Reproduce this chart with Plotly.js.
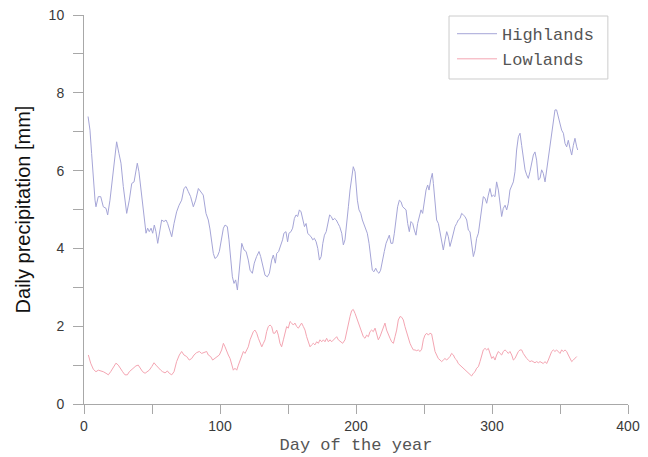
<!DOCTYPE html>
<html>
<head>
<meta charset="utf-8">
<script src="https://cdn.plot.ly/plotly-3.0.1.min.js"></script>
<style>
  html, body { margin: 0; padding: 0; background: #fff; }
  #chart { width: 648px; height: 457px; }
</style>
</head>
<body>
<div id="chart"></div>
<script>
// Smoothed daily precipitation, highland stations
const hiDay = [3,4.4,5.6,6.9,8.1,8.8,10.5,12.3,14.2,16.2,17.4,19.1,20.8,22.3,24,25.7,27.2,28.9,30.2,31.4,33.3,35.1,36.8,38,39.2,40.4,41.7,42.9,44.4,45.6,46.8,48,49.3,50.5,51.7,52.9,54.2,55.4,57.1,58.8,60.3,61.5,63.2,64.5,66.2,68.1,69.9,71.8,73.5,75,76.7,78.4,80.4,82.1,84.1,85.8,87.7,89.7,91.4,92.6,93.9,95.1,96.3,98,99.5,101.2,102.5,103.7,105.4,106.6,107.9,109.1,110.3,111.5,112.8,114.2,116,117.7,119.2,120.8,122.1,123.8,125.2,126.9,128.7,129.9,131.4,133.1,134.8,136.3,138,139.2,140.7,141.7,143.1,144.6,146,147,148.5,149.7,150.7,152.2,153.4,154.7,155.9,157.1,158.4,159.6,160.8,162.1,163.3,164.5,165.7,167,168.2,169.4,170.7,171.9,173.1,174.4,175.6,176.8,178.1,179.3,180.6,181.8,183,184.3,185.5,186.8,188,189.5,190.7,191.9,193.1,194.4,195.6,196.8,198,199.3,200,201,202.2,203.5,204.7,205.9,207.1,208.3,209.6,210.8,212,213.2,214.5,215.7,216.9,218.1,219.4,220.8,222.1,223.3,224.5,225.7,227,228.2,229.4,230.6,231.9,233.1,234.3,235.5,236.8,238,239.2,240.4,241.7,242.9,244.1,245.3,246.6,247.8,249,250.2,251.5,252.7,253.7,254.9,256.1,256.9,258.1,259.3,260.6,261.8,263,264.2,265.5,266.7,267.9,269.1,270.4,271.6,272.8,274,275.2,276.5,277.7,278.9,280.1,281.4,282.6,283.8,285,286.3,287.5,288.7,290,291.2,292.4,293.6,294.9,296.1,297.3,298.5,299.8,301,302.2,303.4,304.7,305.9,307.1,308.3,309.6,310.8,312,313.2,314.5,315.7,316.9,318.1,319.4,320.6,321.8,323,324.3,325.5,326.7,327.9,329.2,330.4,331.6,332.8,334.1,335.3,336.5,337.7,339,340.2,341.4,342.6,343.9,345.1,346.3,347.5,348.8,350,351.2,352.5,353.7,354.9,356.1,357.4,358.6,359.8,361,362.3,363];
const hiVal = [7.39,7.04,6.44,5.76,5.24,5.07,5.33,5.33,5.07,5.03,4.86,5.24,5.76,6.27,6.74,6.44,6.19,5.59,5.24,4.90,5.24,5.67,5.71,5.93,6.19,5.97,5.59,5.16,4.73,4.39,4.52,4.43,4.52,4.39,4.60,4.43,4.13,4.43,4.73,4.69,4.73,4.64,4.43,4.30,4.64,4.94,5.11,5.24,5.54,5.59,5.46,5.33,5.07,5.24,5.54,5.46,5.37,4.90,4.73,4.50,4.22,3.87,3.74,3.79,3.92,4.22,4.52,4.60,4.56,4.22,3.70,3.27,3.10,3.19,2.93,3.44,4.13,3.96,3.92,3.70,3.44,3.36,3.62,3.79,3.92,3.79,3.53,3.31,3.27,3.36,3.70,3.83,3.62,3.87,3.92,4.05,4.22,4.39,4.43,4.17,4.39,4.43,4.52,4.77,4.86,4.82,4.99,4.94,4.73,4.56,4.64,4.39,4.34,4.30,4.22,4.26,4.17,4.00,3.70,3.79,4.13,4.34,4.43,4.64,4.86,4.82,4.73,4.77,4.73,4.64,4.56,4.39,4.09,4.22,4.56,5.07,5.50,5.76,6.10,5.97,5.67,5.24,4.99,4.90,4.73,4.60,4.47,4.39,4.13,3.70,3.44,3.40,3.49,3.40,3.36,3.44,3.70,3.92,4.13,4.22,4.34,4.13,4.13,4.39,4.73,5.07,5.24,5.20,5.07,5.03,4.99,4.64,4.43,4.69,4.64,4.47,4.34,4.64,4.86,4.99,4.90,5.24,5.50,5.63,5.50,5.76,5.93,5.67,5.07,4.73,4.64,4.39,4.13,3.96,4.22,4.43,4.30,4.05,4.22,4.39,4.56,4.64,4.73,4.77,4.90,4.86,4.82,4.73,4.47,4.43,4.09,3.79,3.95,4.26,4.39,4.73,5.07,5.33,5.29,5.16,5.37,5.54,5.33,5.37,5.33,5.71,5.50,5.16,4.82,5.03,5.11,4.99,5.16,5.50,5.63,5.71,5.97,6.53,6.87,6.96,6.65,6.36,6.02,5.89,5.80,5.97,6.23,6.40,6.48,6.27,5.76,5.80,6.02,5.93,5.71,6.02,6.36,6.61,7.04,7.39,7.56,7.56,7.39,7.26,7.04,6.96,6.70,6.61,6.78,6.57,6.40,6.65,6.83,6.61,6.53];

// Smoothed daily precipitation, lowland stations
const loDay = [3.2,4.9,6.9,8.8,10.5,12.3,14.2,16.2,17.9,19.6,21.6,23.5,25.2,26.5,28.4,30.1,31.9,33.3,35.1,36.8,38.2,39.9,41.7,43.1,44.9,46.6,48,49.8,51.5,52.9,54.7,56.4,57.8,59.6,61.3,62.7,64.5,66.2,68.1,70.1,71.8,73.5,75.5,77.4,79.2,80.9,82.8,84.8,86.5,88.2,90.2,91.4,93.1,94.6,96.3,97.5,99.5,101.2,102.5,103.7,104.9,106.1,107.4,108.6,109.8,111,112.3,113.5,114.7,115.9,117.2,118.4,119.6,120.8,122.1,123.3,124.5,125.7,127,128.2,129.4,130.7,131.9,133.1,134.3,135.5,136.8,138,139.2,140.4,141.7,142.9,144.1,145.3,146.6,147.8,149,150.2,151.5,152.7,153.9,155.1,156.4,157.6,158.8,160,161.3,162.5,163.7,164.9,166.2,167.4,168.6,169.8,171.1,172.3,173.5,174.8,176,177.2,178.4,179.7,180.9,182.1,183.3,184.6,185.8,187,188.2,190.2,191.9,193.1,194.4,195.6,196.8,198,199.3,200.5,201.7,203,204.2,205.4,206.6,207.8,209.1,210.3,211.5,212.7,214,215.2,216.4,217.6,218.9,220.1,221.3,222.5,223.8,225,226.2,227.5,228.7,229.9,231.1,232.4,233.6,234.8,236,237.3,238.5,239.7,240.9,242.2,243.4,244.6,245.8,247.1,248.3,249.5,250.7,252,253.2,254.4,255.6,256.9,258.1,259.3,260.5,261.8,263,264.2,265.4,266.7,267.9,269.1,270.3,271.6,272.8,274,275.2,276.5,277.7,278.9,280.1,281.4,282.6,283.8,285,286.3,287.5,288.7,290,291.2,292.4,293.6,294.9,296.1,297.3,298.5,299.8,301,302.2,303.4,304.7,305.9,307.1,308.3,309.6,310.8,312,313.2,314.5,315.7,316.9,318.1,319.4,320.6,321.8,323,324.3,325.5,326.7,327.9,329.2,330.4,331.6,332.8,334.1,335.3,336.5,337.7,339,340.2,341.4,342.6,343.9,345.1,346.3,347.5,348.8,350,351.2,352.5,353.7,354.9,356.1,357.4,358.6,359.8,361,362.3];
const loVal = [1.26,1.05,0.89,0.83,0.87,0.86,0.83,0.79,0.75,0.83,0.94,1.05,1.00,0.92,0.83,0.75,0.75,0.83,0.89,0.96,0.98,1.00,0.92,0.83,0.79,0.83,0.87,0.96,1.06,1.00,0.92,0.87,0.83,0.80,0.85,0.79,0.75,0.83,1.09,1.26,1.35,1.26,1.22,1.13,1.17,1.26,1.32,1.35,1.30,1.32,1.35,1.26,1.22,1.13,1.17,1.22,1.26,1.39,1.56,1.47,1.35,1.26,1.17,1.00,0.87,0.92,0.87,1.00,1.13,1.26,1.35,1.30,1.39,1.47,1.65,1.77,1.86,1.90,1.82,1.69,1.56,1.47,1.56,1.65,1.86,1.99,2.03,1.99,1.82,1.82,1.90,1.77,1.56,1.47,1.65,1.86,1.99,1.95,2.12,2.08,2.03,2.08,1.99,1.95,2.03,2.08,1.99,1.90,1.73,1.60,1.47,1.52,1.56,1.52,1.60,1.56,1.65,1.60,1.65,1.60,1.69,1.60,1.65,1.60,1.65,1.69,1.73,1.65,1.62,1.56,1.65,1.86,2.08,2.25,2.40,2.43,2.33,2.20,2.08,1.95,1.86,1.73,1.69,1.77,1.73,1.86,1.90,1.86,1.95,1.82,1.65,1.73,1.86,1.99,2.08,1.90,1.77,1.69,1.60,1.56,1.73,1.90,2.16,2.25,2.23,2.16,1.99,1.82,1.69,1.56,1.47,1.39,1.39,1.37,1.39,1.35,1.41,1.65,1.77,1.82,1.77,1.82,1.80,1.56,1.35,1.26,1.17,1.13,1.09,1.13,1.17,1.13,1.17,1.22,1.30,1.26,1.17,1.13,1.04,1.00,0.96,0.92,0.87,0.83,0.79,0.75,0.72,0.79,0.83,0.92,0.96,1.09,1.26,1.39,1.43,1.39,1.43,1.30,1.17,1.22,1.13,1.26,1.35,1.30,1.26,1.35,1.39,1.35,1.30,1.35,1.26,1.13,1.17,1.26,1.35,1.39,1.39,1.30,1.22,1.17,1.13,1.09,1.11,1.09,1.06,1.09,1.06,1.09,1.06,1.04,1.09,1.04,1.13,1.26,1.35,1.39,1.35,1.39,1.35,1.30,1.39,1.35,1.39,1.35,1.26,1.17,1.09,1.13,1.17,1.22];

const seriesNames = ['Highlands', 'Lowlands'];
const xTitle = 'Day of the year';
const yTitle = 'Daily precipitation [mm]';

const axisGrey = '#a8a8a8';
const tickFont = { family: 'Liberation Sans, Arial, sans-serif', size: 14, color: '#3a3a3a' };
const monoFont = 'Liberation Mono, Courier New, monospace';

const traces = [
  { x: hiDay, y: hiVal, name: seriesNames[0], type: 'scatter', mode: 'lines',
    line: { color: 'rgb(165,165,215)', width: 1 } },
  { x: loDay, y: loVal, name: seriesNames[1], type: 'scatter', mode: 'lines',
    line: { color: 'rgb(244,165,178)', width: 1 } }
];

const layout = {
  width: 648, height: 457,
  margin: { l: 84, r: 20, t: 15, b: 53 },
  paper_bgcolor: '#fff', plot_bgcolor: '#fff',
  showlegend: true,
  xaxis: {
    range: [0, 400], dtick: 100, tick0: 0,
    showgrid: false, zeroline: false,
    showline: true, linecolor: axisGrey, linewidth: 1,
    ticks: 'outside', ticklen: 9, tickcolor: axisGrey, tickwidth: 1,
    minor: { dtick: 50, ticks: 'outside', ticklen: 9, tickcolor: axisGrey, showgrid: false },
    tickfont: tickFont,
    title: { text: xTitle, standoff: 5,
      font: { family: monoFont, size: 17, color: '#555' } }
  },
  yaxis: {
    range: [0, 10], dtick: 2, tick0: 0,
    showgrid: false, zeroline: false,
    showline: true, linecolor: axisGrey, linewidth: 1,
    ticks: 'outside', ticklen: 10, tickcolor: axisGrey, tickwidth: 1,
    ticklabelstandoff: 6,
    minor: { dtick: 1, ticks: 'outside', ticklen: 10, tickcolor: axisGrey, showgrid: false },
    tickfont: tickFont,
    title: { text: yTitle, standoff: 12,
      font: { family: 'Liberation Sans, Arial, sans-serif', size: 20, color: '#111' } }
  },
  // legend frame, drawn as a shape so it can be wider than the entries
  shapes: [{
    type: 'rect', xref: 'paper', yref: 'paper', layer: 'above',
    x0: 0.671, x1: 0.963, y0: 0.8355, y1: 0.9974,
    line: { color: '#cccccc', width: 1 }, fillcolor: 'rgba(0,0,0,0)'
  }],
  legend: {
    x: 0.6765, y: 0.997, xanchor: 'left', yanchor: 'top',
    bgcolor: 'rgba(0,0,0,0)', borderwidth: 0,
    font: { family: monoFont, size: 17, color: '#555' },
    itemwidth: 40,
    tracegroupgap: 0
  }
};

Plotly.newPlot('chart', traces, layout, { displayModeBar: false, staticPlot: true });
</script>
</body>
</html>
